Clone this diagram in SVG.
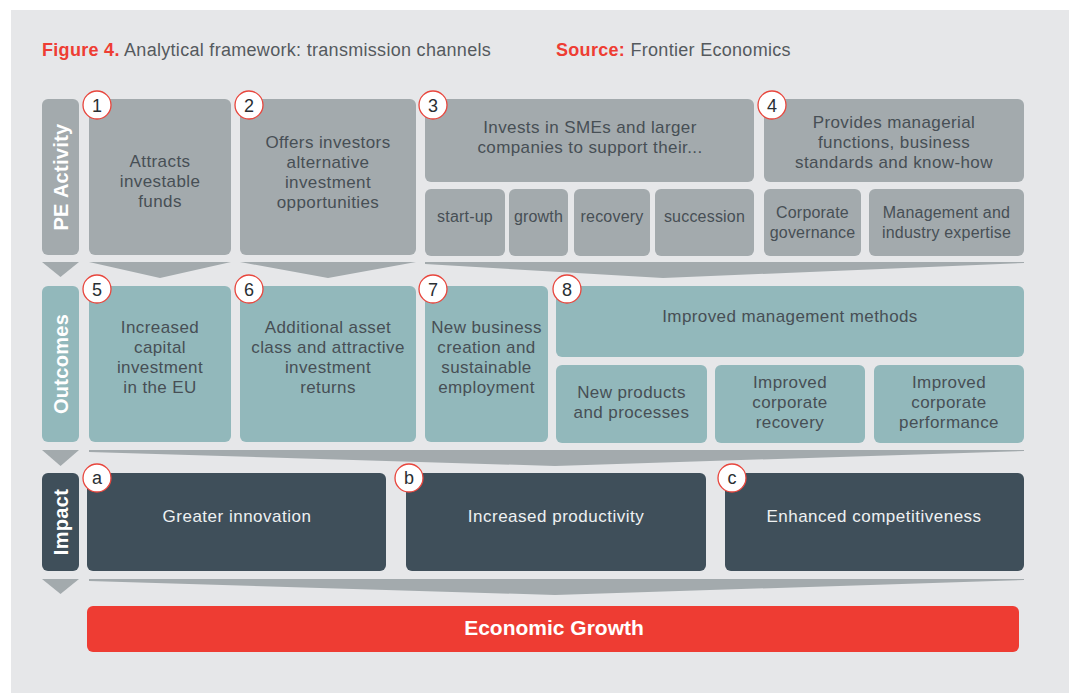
<svg xmlns="http://www.w3.org/2000/svg" width="1074" height="693" viewBox="0 0 1074 693">
<style>
.t{font-family:"Liberation Sans",Arial,sans-serif;font-size:17px;letter-spacing:0.4px;fill:#474f55;text-anchor:middle}
.ts{font-family:"Liberation Sans",Arial,sans-serif;font-size:16px;letter-spacing:0.2px;fill:#474f55;text-anchor:middle}
.tw{font-family:"Liberation Sans",Arial,sans-serif;font-size:17px;letter-spacing:0.5px;fill:#eef1f2;text-anchor:middle}
.side{font-family:"Liberation Sans",Arial,sans-serif;font-size:20px;font-weight:bold;letter-spacing:0.3px;fill:#ffffff;text-anchor:middle}
.g{fill:#a3aaad}
.tl{fill:#92b8bb}
.dk{fill:#3f4f5a}
.num circle{fill:#ffffff;stroke:#e8453c;stroke-width:1.3}
.num text{font-family:"Liberation Sans",Arial,sans-serif;font-size:18px;fill:#2a2f33;text-anchor:middle}
.title{font-family:"Liberation Sans",Arial,sans-serif;font-size:18px;letter-spacing:0.3px}
</style>
<rect x="0" y="0" width="1074" height="693" fill="#ffffff"/>
<rect x="11" y="10" width="1058" height="683" fill="#e6e7e9"/>
<g id="title" class="title">
<text x="42" y="56"><tspan font-weight="bold" fill="#ee3d33">Figure 4.</tspan><tspan fill="#555a5e"> Analytical framework: transmission channels</tspan></text>
<text x="556" y="56"><tspan font-weight="bold" fill="#ee3d33">Source:</tspan><tspan fill="#555a5e"> Frontier Economics</tspan></text>
</g>
<g id="connectors" class="g">
<polygon points="42,262 79,262 60.5,277"/>
<polygon points="42,450 79,450 60.5,466"/>
<polygon points="42,579 79,579 60.5,594"/>
<polygon points="89,262 231,262 160,278"/>
<polygon points="240,262 416,262 328,278"/>
<polygon points="425,262 1024,262 1024,263 663,278 425,264"/>
<polygon points="89,450 1024,450 1024,451 555,466 89,452"/>
<polygon points="89,579 1024,579 1024,580 555,595 89,581"/>
</g>
<g id="side-pe"><rect class="g" x="42" y="99" width="37" height="156" rx="6"/><text class="side" transform="translate(68,177) rotate(-90)">PE Activity</text></g>
<g id="side-outcomes"><rect class="tl" x="42" y="286" width="37" height="156" rx="6"/><text class="side" transform="translate(68,364) rotate(-90)">Outcomes</text></g>
<g id="side-impact"><rect class="dk" x="42" y="473" width="37" height="98" rx="6"/><text class="side" transform="translate(68,522) rotate(-90)">Impact</text></g>

<g id="node1"><rect class="g" x="89" y="99" width="142" height="156" rx="6"/>
<text class="t" x="160" y="167">Attracts</text><text class="t" x="160" y="187">investable</text><text class="t" x="160" y="207">funds</text>
<g class="num"><circle cx="97" cy="105" r="14"/><text x="97" y="111.5">1</text></g></g>

<g id="node2"><rect class="g" x="240" y="99" width="176" height="156" rx="6"/>
<text class="t" x="328" y="148">Offers investors</text><text class="t" x="328" y="168">alternative</text><text class="t" x="328" y="188">investment</text><text class="t" x="328" y="208">opportunities</text>
<g class="num"><circle cx="249" cy="105" r="14"/><text x="249" y="111.5">2</text></g></g>

<g id="node3"><rect class="g" x="425" y="99" width="329" height="83" rx="6"/>
<text class="t" x="590" y="133">Invests in SMEs and larger</text><text class="t" x="590" y="153">companies to support their...</text>
<g class="num"><circle cx="433" cy="105" r="14"/><text x="433" y="111.5">3</text></g></g>
<g id="node3-startup"><rect class="g" x="425" y="189" width="80" height="67" rx="6"/><text class="ts" x="465" y="222">start-up</text></g>
<g id="node3-growth"><rect class="g" x="509" y="189" width="59" height="67" rx="6"/><text class="ts" x="538.5" y="222">growth</text></g>
<g id="node3-recovery"><rect class="g" x="574" y="189" width="76" height="67" rx="6"/><text class="ts" x="612" y="222">recovery</text></g>
<g id="node3-succession"><rect class="g" x="655" y="189" width="99" height="67" rx="6"/><text class="ts" x="704.5" y="222">succession</text></g>

<g id="node4"><rect class="g" x="764" y="99" width="260" height="83" rx="6"/>
<text class="t" x="894" y="128">Provides managerial</text><text class="t" x="894" y="148">functions, business</text><text class="t" x="894" y="168">standards and know-how</text>
<g class="num"><circle cx="772" cy="105" r="14"/><text x="772" y="111.5">4</text></g></g>
<g id="node4-governance"><rect class="g" x="764" y="189" width="97" height="67" rx="6"/><text class="ts" x="812.5" y="218">Corporate</text><text class="ts" x="812.5" y="238">governance</text></g>
<g id="node4-management"><rect class="g" x="869" y="189" width="155" height="67" rx="6"/><text class="ts" x="946.5" y="218">Management and</text><text class="ts" x="946.5" y="238">industry expertise</text></g>

<g id="node5"><rect class="tl" x="89" y="286" width="142" height="156" rx="6"/>
<text class="t" x="160" y="333">Increased</text><text class="t" x="160" y="353">capital</text><text class="t" x="160" y="373">investment</text><text class="t" x="160" y="393">in the EU</text>
<g class="num"><circle cx="97" cy="289" r="14"/><text x="97" y="295.5">5</text></g></g>

<g id="node6"><rect class="tl" x="240" y="286" width="176" height="156" rx="6"/>
<text class="t" x="328" y="333">Additional asset</text><text class="t" x="328" y="353">class and attractive</text><text class="t" x="328" y="373">investment</text><text class="t" x="328" y="393">returns</text>
<g class="num"><circle cx="249" cy="289" r="14"/><text x="249" y="295.5">6</text></g></g>

<g id="node7"><rect class="tl" x="425" y="286" width="123" height="156" rx="6"/>
<text class="t" x="486.5" y="333">New business</text><text class="t" x="486.5" y="353">creation and</text><text class="t" x="486.5" y="373">sustainable</text><text class="t" x="486.5" y="393">employment</text>
<g class="num"><circle cx="433" cy="289" r="14"/><text x="433" y="295.5">7</text></g></g>

<g id="node8"><rect class="tl" x="556" y="286" width="468" height="71" rx="6"/>
<text class="t" x="790" y="322">Improved management methods</text>
<g class="num"><circle cx="567" cy="289" r="14"/><text x="567" y="295.5">8</text></g></g>
<g id="node8-products"><rect class="tl" x="556" y="365" width="151" height="78" rx="6"/><text class="t" x="631.5" y="398">New products</text><text class="t" x="631.5" y="418">and processes</text></g>
<g id="node8-recovery"><rect class="tl" x="715" y="365" width="150" height="78" rx="6"/><text class="t" x="790" y="388">Improved</text><text class="t" x="790" y="408">corporate</text><text class="t" x="790" y="428">recovery</text></g>
<g id="node8-performance"><rect class="tl" x="874" y="365" width="150" height="78" rx="6"/><text class="t" x="949" y="388">Improved</text><text class="t" x="949" y="408">corporate</text><text class="t" x="949" y="428">performance</text></g>

<g id="nodeA"><rect class="dk" x="87" y="473" width="299" height="98" rx="6"/>
<text class="tw" x="237" y="522">Greater innovation</text>
<g class="num"><circle cx="97" cy="478" r="14"/><text x="97" y="484">a</text></g></g>
<g id="nodeB"><rect class="dk" x="406" y="473" width="300" height="98" rx="6"/>
<text class="tw" x="556" y="522">Increased productivity</text>
<g class="num"><circle cx="409" cy="478" r="14"/><text x="409" y="484">b</text></g></g>
<g id="nodeC"><rect class="dk" x="725" y="473" width="299" height="98" rx="6"/>
<text class="tw" x="874" y="522">Enhanced competitiveness</text>
<g class="num"><circle cx="732" cy="478" r="14"/><text x="732" y="484">c</text></g></g>

<g id="growth"><rect x="87" y="606" width="932" height="46" rx="6" fill="#ee3c33"/>
<text x="554" y="635" text-anchor="middle" font-family="Liberation Sans, Arial, sans-serif" font-size="21px" font-weight="bold" fill="#ffffff">Economic Growth</text></g>
</svg>
